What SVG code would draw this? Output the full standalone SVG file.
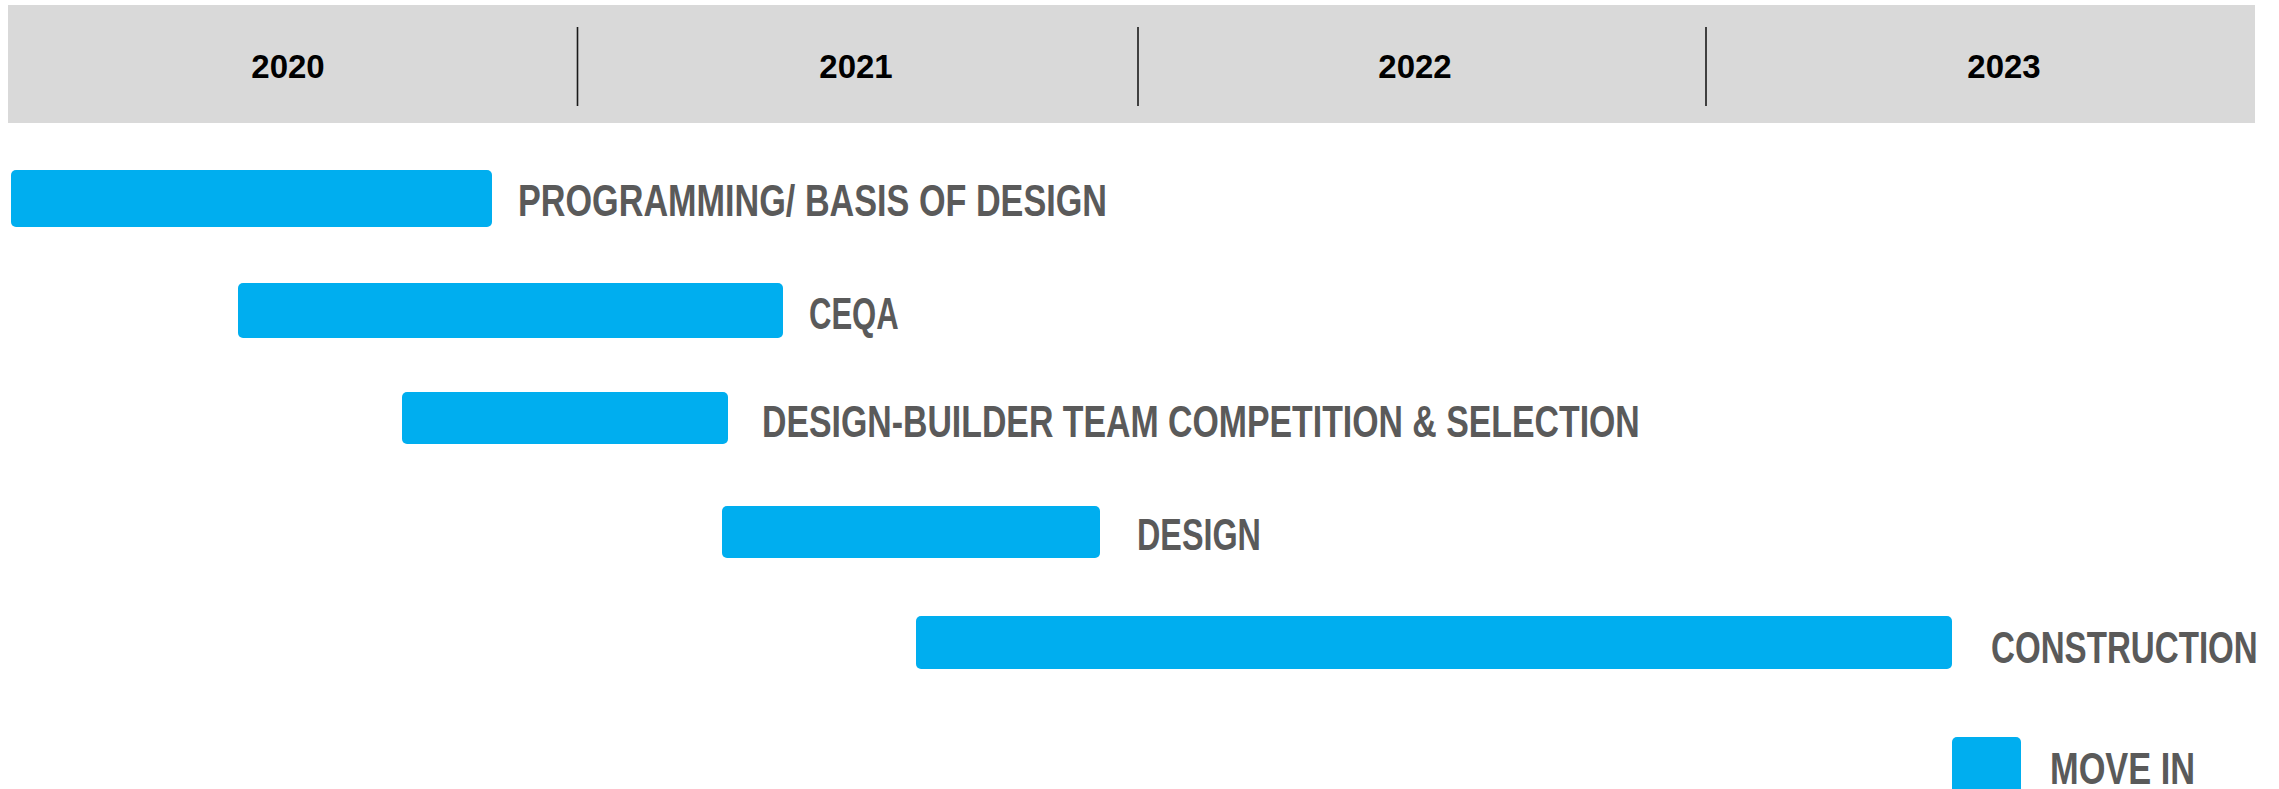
<svg xmlns="http://www.w3.org/2000/svg" width="2279" height="789" viewBox="0 0 2279 789">
<style>
.year{font-family:"Liberation Sans",Arial,sans-serif;font-weight:bold;font-size:33px;fill:#000;text-anchor:middle}
.bar{fill:#00AEEF}
.lbl{font-family:"Liberation Sans",Arial,sans-serif;font-weight:bold;font-size:44px;fill:#5a5a5a}
.div{stroke:#1a1a1a;stroke-width:1.6}
</style>
<rect width="2279" height="789" fill="#ffffff"/>
<g id="header">
<rect x="8" y="5" width="2247" height="118" fill="#d9d9d9"/>
<text class="year" x="288" y="78">2020</text>
<text class="year" x="856" y="78">2021</text>
<text class="year" x="1415" y="78">2022</text>
<text class="year" x="2004" y="78">2023</text>
</g>
<g id="connectors">
<line class="div" x1="577.5" y1="27" x2="577.5" y2="106"/>
<line class="div" x1="1138" y1="27" x2="1138" y2="106"/>
<line class="div" x1="1706" y1="27" x2="1706" y2="106"/>
</g>
<g id="programming">
<rect class="bar" x="11" y="170" width="481" height="57" rx="5"/>
<text class="lbl" transform="translate(518,216) scale(0.76,1)" x="0" y="0" textLength="775" lengthAdjust="spacingAndGlyphs">PROGRAMMING/ BASIS OF DESIGN</text>
</g>
<g id="ceqa">
<rect class="bar" x="238" y="283" width="545" height="55" rx="5"/>
<text class="lbl" transform="translate(809,329) scale(0.76,1)" x="0" y="0" textLength="118" lengthAdjust="spacingAndGlyphs">CEQA</text>
</g>
<g id="design-builder">
<rect class="bar" x="402" y="392" width="326" height="52" rx="5"/>
<text class="lbl" transform="translate(762,437) scale(0.76,1)" x="0" y="0" textLength="1155" lengthAdjust="spacingAndGlyphs">DESIGN-BUILDER TEAM COMPETITION &amp; SELECTION</text>
</g>
<g id="design">
<rect class="bar" x="722" y="506" width="378" height="52" rx="5"/>
<text class="lbl" transform="translate(1137,550) scale(0.76,1)" x="0" y="0" textLength="163" lengthAdjust="spacingAndGlyphs">DESIGN</text>
</g>
<g id="construction">
<rect class="bar" x="916" y="616" width="1036" height="53" rx="5"/>
<text class="lbl" transform="translate(1991,663) scale(0.76,1)" x="0" y="0" textLength="351" lengthAdjust="spacingAndGlyphs">CONSTRUCTION</text>
</g>
<g id="move-in">
<rect class="bar" x="1952" y="737" width="69" height="62" rx="5"/>
<text class="lbl" transform="translate(2050,784) scale(0.76,1)" x="0" y="0" textLength="191" lengthAdjust="spacingAndGlyphs">MOVE IN</text>
</g>
</svg>
